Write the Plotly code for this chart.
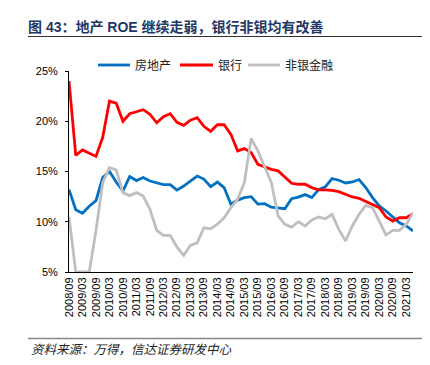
import plotly.graph_objects as go

# Quarterly periods 2008/09 .. 2021/06
periods = []
for y in range(2008, 2022):
    for m in ("03", "06", "09", "12"):
        periods.append(f"{y}/{m}")
periods = periods[periods.index("2008/09"): periods.index("2021/06") + 1]

real_estate = [13.2, 11.2, 10.85, 11.55, 12.1, 14.4, 15.0, 13.95, 13.05, 14.5,
               14.1, 14.4, 14.05, 13.9, 13.7, 13.7, 13.15, 13.55, 14.05, 14.55,
               14.25, 13.5, 13.95, 13.4, 11.75, 12.15, 12.4, 12.5, 11.75, 11.8,
               11.45, 11.4, 11.3, 12.3, 12.45, 12.7, 12.4, 13.2, 13.47, 14.3,
               14.13, 13.86, 13.96, 14.2, 13.4, 12.4, 11.57, 11.07, 10.47, 9.9,
               9.58, 9.08]
banks = [24.0, 16.6, 17.15, 16.8, 16.5, 18.4, 22.0, 21.8, 20.0, 20.75,
         20.95, 21.15, 20.7, 19.85, 20.45, 20.75, 19.9, 19.6, 20.1, 20.35,
         19.5, 19.0, 19.65, 19.65, 18.7, 17.05, 17.28, 16.88, 15.72, 15.46,
         15.22, 15.06, 14.4, 13.83, 13.73, 13.73, 13.4, 13.17, 13.17, 13.13,
         13.0, 12.73, 12.47, 12.33, 12.0, 11.67, 11.4, 10.47, 10.07, 10.4,
         10.4, 10.8]
non_bank = [10.5, 5.0, 5.0, 5.0, 9.1, 13.9, 15.4, 15.15, 12.9, 12.6,
            12.9, 12.55, 11.25, 9.15, 8.65, 8.65, 7.5, 6.65, 7.65, 7.9,
            9.4, 9.3, 9.75, 10.4, 11.4, 12.23, 13.9, 18.3, 17.05, 15.55,
            13.9, 10.58, 9.74, 9.47, 10.0, 9.58, 10.17, 10.47, 10.3, 10.74,
            9.24, 8.09, 9.58, 10.74, 11.63, 11.4, 10.07, 8.69, 9.14, 9.14,
            9.74, 10.9]

tick_labels = periods[::2]
y_ticks = [5, 10, 15, 20, 25]

series_names = ["房地产", "银行", "非银金融"]
colors = ["rgb(0,112,192)", "rgb(255,0,0)", "rgb(191,191,191)"]

W, H = 430, 365
L, R, T, B = 61, 25, 63, 101
PW, PH = W - L - R, H - T - B


def px(x):
    return (x - L) / PW


def py(y):
    return (H - B - y) / PH


fig = go.Figure()
xs = list(range(len(periods)))
for name, vals, c in zip(series_names, [real_estate, banks, non_bank], colors):
    fig.add_trace(go.Scatter(x=xs, y=vals, mode="lines", name=name,
                             line=dict(color=c, width=2.8)))

# legend drawn as line samples + labels (positions only)
legend_pos = [(90, 122, 125), (172, 205, 208), (240, 272, 275)]
shapes = [
    dict(type="line", xref="paper", yref="paper", x0=px(20), x1=px(428),
         y0=py(28.5), y1=py(28.5), line=dict(color="#333", width=1)),
    dict(type="line", xref="paper", yref="paper", x0=px(20), x1=px(428),
         y0=py(330.5), y1=py(330.5), line=dict(color="#888", width=1.5)),
]
annotations = [
    dict(text="<i>资料来源：万得，信达证券研发中心</i>", xref="paper", yref="paper",
         x=px(21), y=py(340), xanchor="left", yanchor="middle", showarrow=False,
         font=dict(family="Noto Sans CJK SC", size=12.5, color="#222")),
]
for (a, b, t), name, c in zip(legend_pos, series_names, colors):
    shapes.append(dict(type="line", xref="paper", yref="paper", x0=px(a), x1=px(b),
                       y0=py(57), y1=py(57), line=dict(color=c, width=2.8)))
    annotations.append(dict(text=name, xref="paper", yref="paper", x=px(t), y=py(57),
                            xanchor="left", yanchor="middle", showarrow=False,
                            font=dict(family="Noto Sans CJK SC", size=12, color="#222")))

fig.update_layout(
    width=W, height=H,
    margin=dict(l=L, r=R, t=T, b=B),
    paper_bgcolor="white", plot_bgcolor="white",
    font=dict(family="Liberation Sans, Arial, Noto Sans CJK SC", size=11, color="#000"),
    showlegend=False,
    title=dict(text="<b>图 43：地产 ROE 继续走弱，银行非银均有改善</b>",
               x=20 / W, xanchor="left", xref="container",
               y=1 - 19 / H, yanchor="middle", yref="container",
               font=dict(family="Liberation Sans, Noto Sans CJK SC", size=14, color="#1F3864")),
    xaxis=dict(range=[0, len(periods) - 1], tickvals=xs[::2], ticktext=tick_labels,
               tickangle=-90, showline=True, linecolor="#000", linewidth=1,
               ticks="", showgrid=False, zeroline=False,
               tickfont=dict(family="Liberation Sans, Arial", size=11, color="#000")),
    yaxis=dict(range=[5, 25], tickvals=y_ticks, ticktext=[f"{v}%" for v in y_ticks],
               showline=True, linecolor="#000", linewidth=1, ticks="outside", ticklen=3,
               tickcolor="#000", showgrid=False, zeroline=False, ticklabelstandoff=5,
               tickfont=dict(family="Liberation Sans, Arial", size=11, color="#000")),
    shapes=shapes,
    annotations=annotations,
)

fig.write_html("out.html")
